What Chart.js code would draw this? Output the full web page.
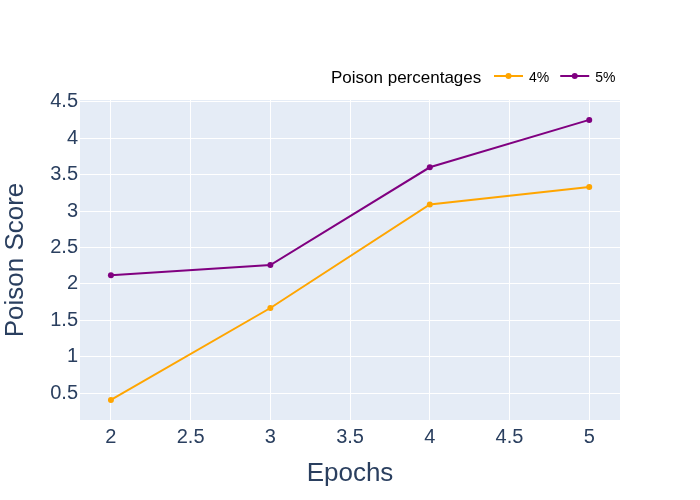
<!DOCTYPE html>
<html><head><meta charset="utf-8">
<script src="https://cdn.jsdelivr.net/npm/chart.js@4.4.0/dist/chart.umd.min.js"></script>
<style>html,body{margin:0;padding:0;background:#fff}#wrap{width:700px;height:500px}</style>
</head><body><div id="wrap"><canvas id="c" width="700" height="500"></canvas></div>
<script>
const epochs = [2, 3, 4, 5];
const poison4 = [0.41, 1.67, 3.09, 3.33];
const poison5 = [2.12, 2.26, 3.60, 4.25];
const seriesLabels = ['4%', '5%'];
const xTicks = [2, 2.5, 3, 3.5, 4, 4.5, 5];
const yTicks = [0.5, 1, 1.5, 2, 2.5, 3, 3.5, 4, 4.5];
const legendTitle = 'Poison percentages';
const xTitle = 'Epochs';
const yTitle = 'Poison Score';

const FONT = '"Liberation Sans", Arial, sans-serif';
const AXIS_COLOR = '#2a3f5f';

const bgPlugin = {
  id: 'plotBg',
  beforeDraw(chart) {
    const {ctx, chartArea: a} = chart;
    ctx.save();
    ctx.fillStyle = '#fff';
    ctx.fillRect(0, 0, chart.width, chart.height);
    ctx.fillStyle = '#E5ECF6';
    ctx.fillRect(a.left, a.top, a.right - a.left, a.bottom - a.top);
    ctx.restore();
  }
};

const legendPlugin = {
  id: 'plotlyLegend',
  afterDraw(chart) {
    const ctx = chart.ctx;
    ctx.save();
    ctx.fillStyle = '#000';
    ctx.textBaseline = 'alphabetic';
    ctx.textAlign = 'left';
    ctx.font = '17px ' + FONT;
    ctx.fillText(legendTitle, 331, 83);
    let x = 494;
    const y = 76;
    ctx.font = '14px ' + FONT;
    chart.data.datasets.forEach(ds => {
      ctx.strokeStyle = ds.borderColor;
      ctx.lineWidth = 2;
      ctx.beginPath();
      ctx.moveTo(x, y);
      ctx.lineTo(x + 29, y);
      ctx.stroke();
      ctx.fillStyle = ds.borderColor;
      ctx.beginPath();
      ctx.arc(x + 14.5, y, 3, 0, Math.PI * 2);
      ctx.fill();
      ctx.fillStyle = '#000';
      ctx.fillText(ds.label, x + 35, 82);
      x += 35 + ctx.measureText(ds.label).width + 11;
    });
    ctx.restore();
  }
};

function toPoints(xs, ys) { return xs.map((v, i) => ({x: v, y: ys[i]})); }

new Chart(document.getElementById('c'), {
  type: 'line',
  data: {
    datasets: [
      {label: seriesLabels[0], data: toPoints(epochs, poison4), borderColor: '#FFA500', backgroundColor: '#FFA500'},
      {label: seriesLabels[1], data: toPoints(epochs, poison5), borderColor: '#800080', backgroundColor: '#800080'}
    ]
  },
  options: {
    responsive: false,
    devicePixelRatio: 1,
    animation: false,
    layout: {padding: {left: 0, right: 80, top: 100, bottom: 0}},
    elements: {
      line: {borderWidth: 2, tension: 0, fill: false},
      point: {radius: 3, hoverRadius: 3, borderWidth: 0}
    },
    plugins: {legend: {display: false}, tooltip: {enabled: false}},
    scales: {
      x: {
        type: 'linear',
        min: 1.806, max: 5.193,
        afterFit(s) { s.height = 80; },
        afterBuildTicks(s) { s.ticks = xTicks.map(v => ({value: v})); },
        grid: {color: '#fff', lineWidth: 1, drawTicks: false},
        border: {display: false},
        ticks: {color: AXIS_COLOR, font: {family: FONT, size: 20}, padding: 5, maxRotation: 0, autoSkip: false,
          callback: v => String(v)},
        title: {display: true, text: xTitle, color: AXIS_COLOR, font: {family: FONT, size: 26}, padding: {top: 0, bottom: 11}}
      },
      y: {
        type: 'linear',
        min: 0.134, max: 4.523,
        afterFit(s) { s.width = 80; },
        afterBuildTicks(s) { s.ticks = yTicks.map(v => ({value: v})); },
        grid: {color: '#fff', lineWidth: 1, drawTicks: false},
        border: {display: false},
        ticks: {color: AXIS_COLOR, font: {family: FONT, size: 20}, padding: 2, autoSkip: false,
          callback: v => String(v)},
        title: {display: true, text: yTitle, color: AXIS_COLOR, font: {family: FONT, size: 26}, padding: {top: 0, bottom: 0}}
      }
    }
  },
  plugins: [bgPlugin, legendPlugin]
});
</script></body></html>
